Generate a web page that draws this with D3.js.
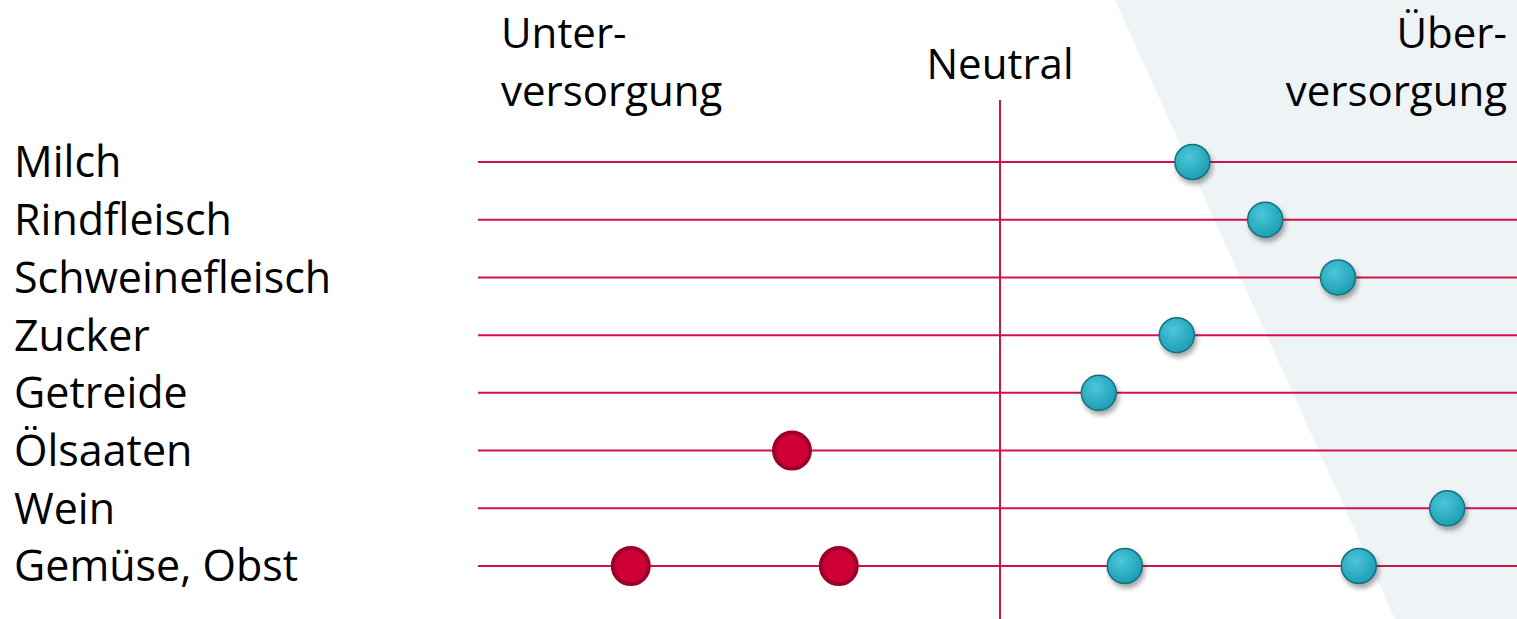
<!DOCTYPE html>
<html>
<head>
<meta charset="utf-8">
<script src="https://cdn.jsdelivr.net/npm/d3@7"></script>
<style>
  body { margin: 0; background: #fff; }
  svg { display: block; }
  text { font-family: "Open Sans", "Noto Sans", sans-serif; fill: #000; }
</style>
</head>
<body>
<div id="chart"></div>
<script>
// size of the page
let svgWidth = 1517;
let svgHeight = 619;

// categories, top to bottom
let categories = ['Milch', 'Rindfleisch', 'Schweinefleisch', 'Zucker', 'Getreide', 'Ölsaaten', 'Wein', 'Gemüse, Obst'];

// supply position per point (-100 = Unterversorgung, 0 = neutral, +100 = Überversorgung)
let pointCategory = ['Milch', 'Rindfleisch', 'Schweinefleisch', 'Zucker', 'Getreide', 'Ölsaaten', 'Wein', 'Gemüse, Obst', 'Gemüse, Obst', 'Gemüse, Obst', 'Gemüse, Obst'];
let pointValue = [37, 51, 65, 34, 19, -40, 86, -71, -31, 24, 69];

// scales
let xScale = d3.scaleLinear().domain([-100, 100]).range([480, 1520]);
let yScale = d3.scalePoint().domain(categories).range([162, 566]);

let svg = d3.select('#chart')
  .append('svg')
  .attr('width', svgWidth)
  .attr('height', svgHeight);

let defs = svg.append('defs');

// blue ball gradient
let grad = defs.append('radialGradient')
  .attr('id', 'blueBall')
  .attr('cx', '40%').attr('cy', '35%').attr('r', '65%');
grad.append('stop').attr('offset', '0%').attr('stop-color', '#4cc6d9');
grad.append('stop').attr('offset', '100%').attr('stop-color', '#1c9fb4');

// soft shadow under blue balls
let shadow = defs.append('filter')
  .attr('id', 'shadow')
  .attr('x', '-50%').attr('y', '-50%').attr('width', '200%').attr('height', '200%');
shadow.append('feDropShadow')
  .attr('dx', 2).attr('dy', 4).attr('stdDeviation', 2.5)
  .attr('flood-color', '#000').attr('flood-opacity', 0.35);

// light background wedge on the surplus side
svg.append('polygon')
  .attr('points', '1115,0 1517,0 1517,619 1395,619')
  .attr('fill', '#eef3f6');

// horizontal lines per category
svg.selectAll('.rowLine')
  .data(categories)
  .enter()
  .append('line')
  .attr('class', 'rowLine')
  .attr('x1', 478)
  .attr('x2', svgWidth)
  .attr('y1', d => yScale(d))
  .attr('y2', d => yScale(d))
  .attr('stroke', '#d0124c')
  .attr('stroke-width', 2);

// neutral line
svg.append('line')
  .attr('x1', xScale(0)).attr('x2', xScale(0))
  .attr('y1', 100).attr('y2', svgHeight)
  .attr('stroke', '#d0124c')
  .attr('stroke-width', 2);

// category labels
svg.selectAll('.catLabel')
  .data(categories)
  .enter()
  .append('text')
  .attr('class', 'catLabel')
  .attr('x', 14)
  .attr('y', d => yScale(d))
  .attr('dy', '0.36em')
  .attr('font-size', '43px')
  .text(d => d);

// header labels
let header = svg.append('g').attr('font-size', '42px');
header.append('text').attr('x', 501).attr('y', 48).text('Unter-');
header.append('text').attr('x', 501).attr('y', 106).text('versorgung');
header.append('text').attr('x', xScale(0)).attr('y', 79).attr('text-anchor', 'middle').text('Neutral');
header.append('text').attr('x', 1507).attr('y', 48).attr('text-anchor', 'end').text('Über-');
header.append('text').attr('x', 1507).attr('y', 106).attr('text-anchor', 'end').text('versorgung');

// points
let points = pointValue.map((v, i) => ({ cat: pointCategory[i], value: v }));

svg.selectAll('.point')
  .data(points)
  .enter()
  .append('circle')
  .attr('class', 'point')
  .attr('cx', d => xScale(d.value))
  .attr('cy', d => yScale(d.cat))
  .attr('r', d => d.value < 0 ? 18 : 17.5)
  .attr('fill', d => d.value < 0 ? '#cf0037' : 'url(#blueBall)')
  .attr('stroke', d => d.value < 0 ? '#9e0027' : '#176f7d')
  .attr('stroke-width', d => d.value < 0 ? 4 : 1.5)
  .attr('filter', d => d.value < 0 ? null : 'url(#shadow)');
</script>
</body>
</html>
